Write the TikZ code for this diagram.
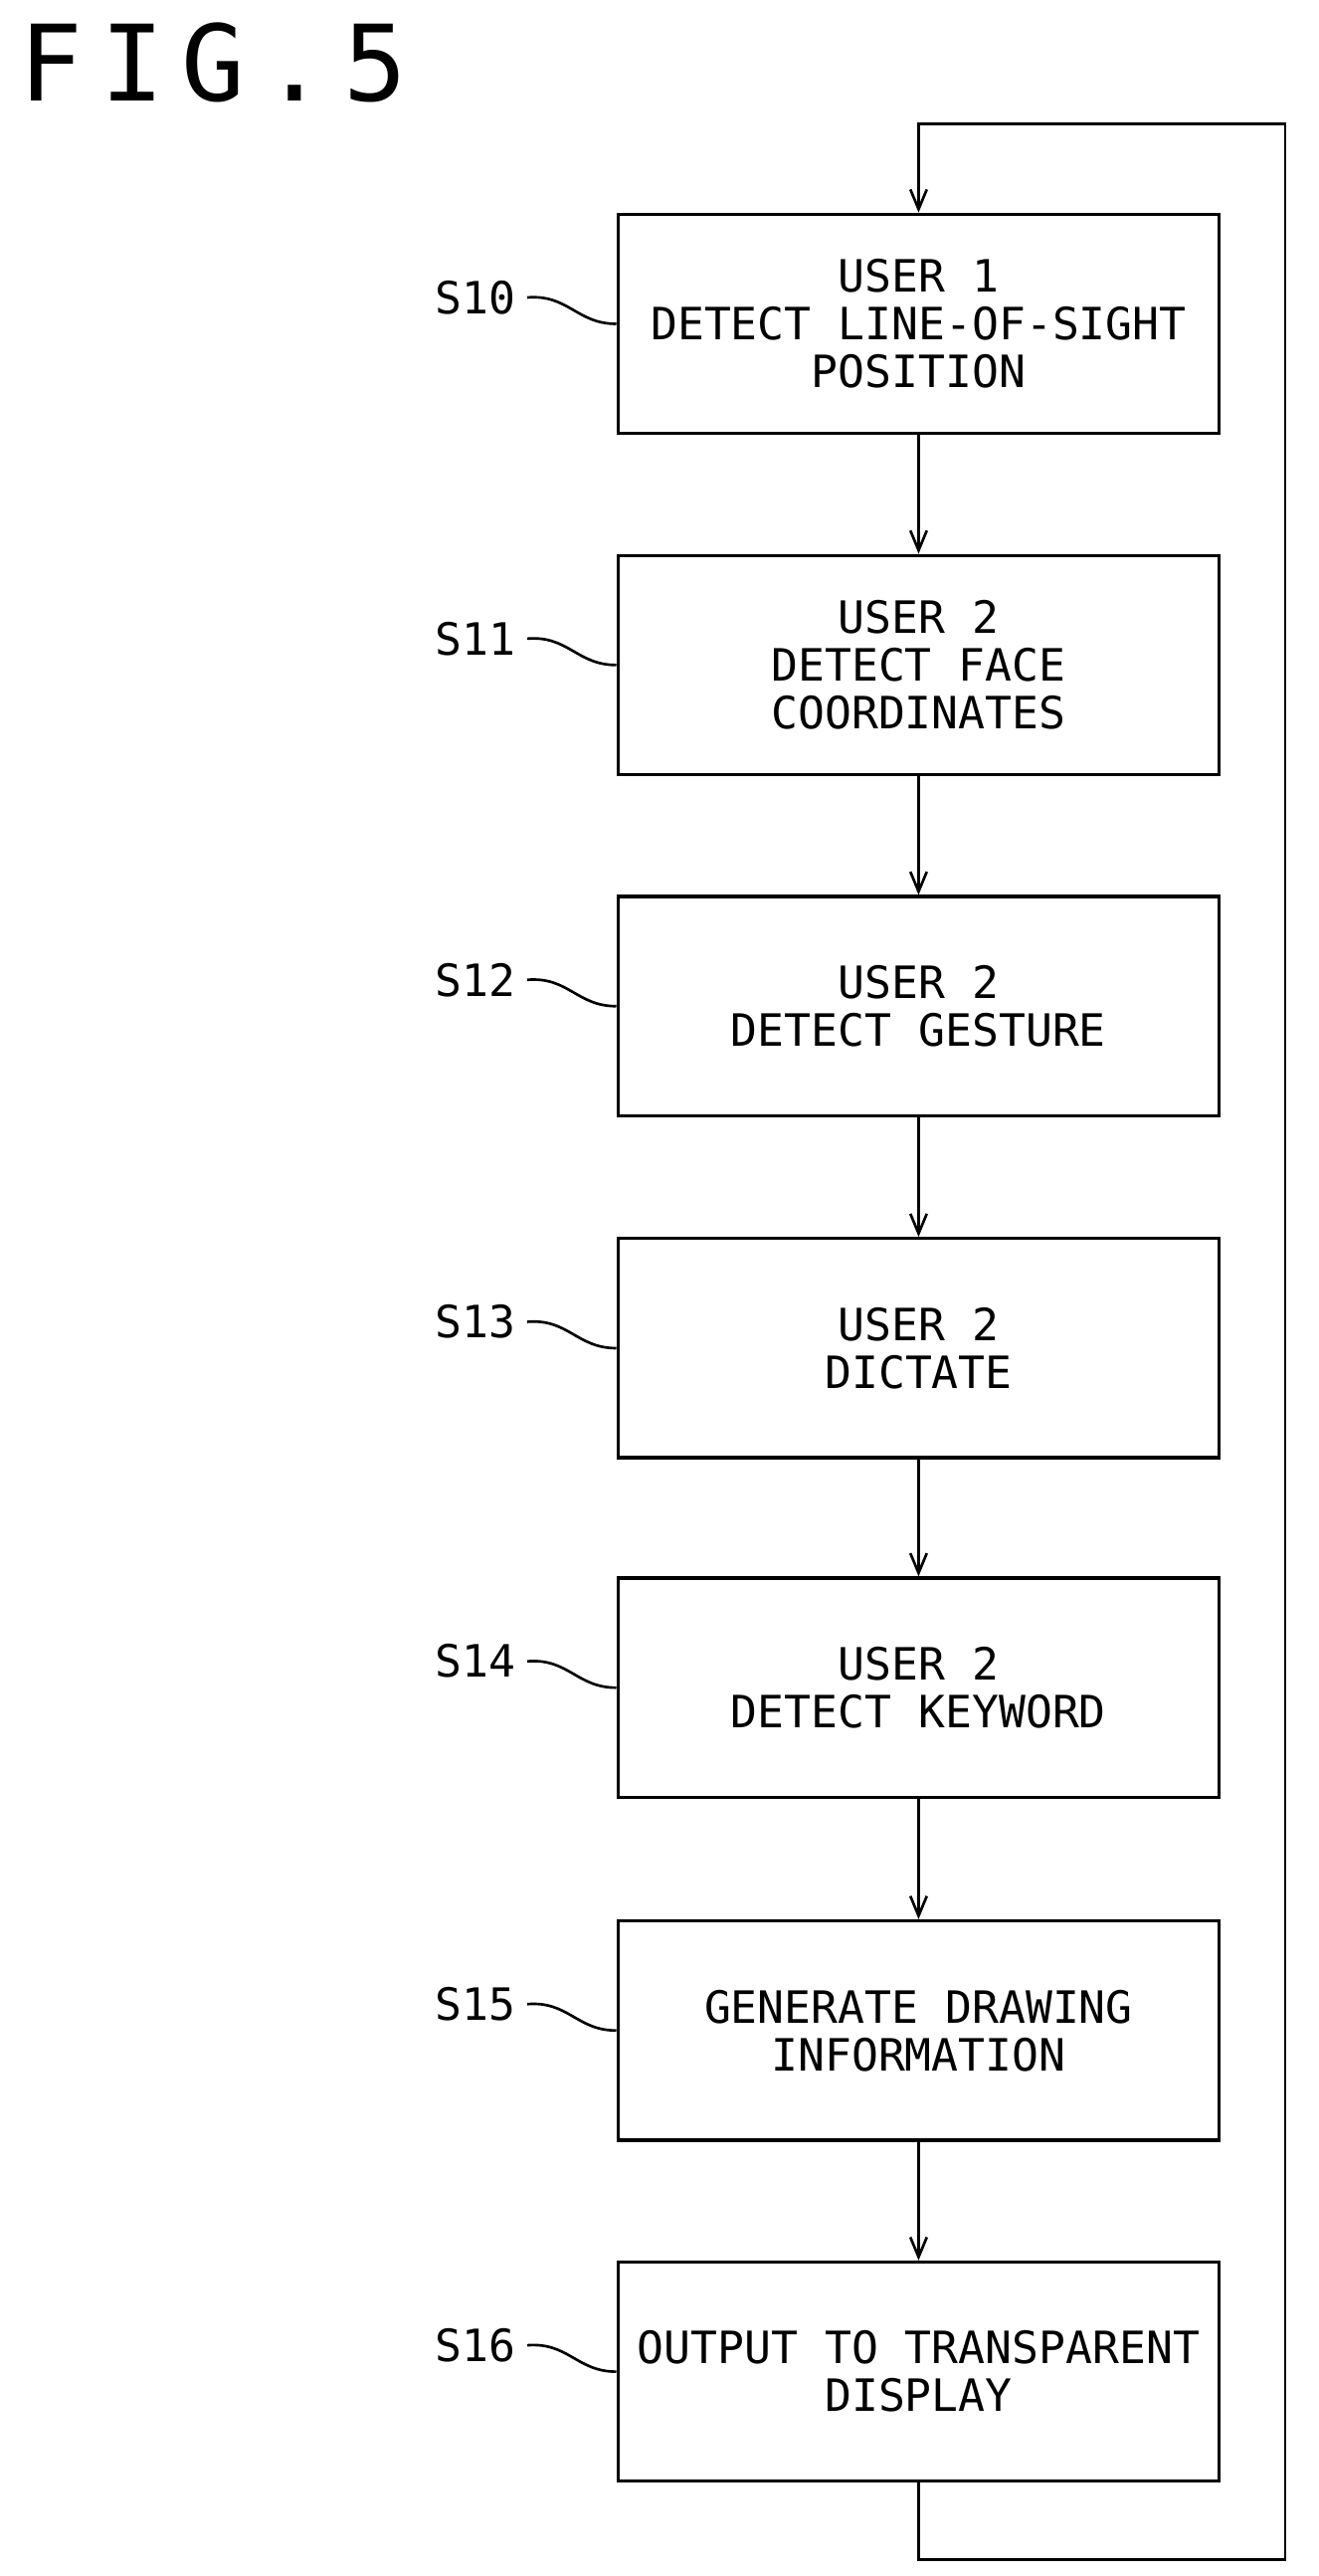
\documentclass[tikz,border=0pt]{standalone}
\usepackage{fontspec}
\setmainfont{DejaVu Sans Mono}
\usetikzlibrary{arrows.meta}
\begin{document}
\begin{tikzpicture}[x=0.5pt,y=-0.5pt,
  box/.style={draw,line width=1pt,minimum width=182.5pt,minimum height=66.5pt,align=center,inner sep=0pt,font=\fontsize{13.5}{14.5}\selectfont},
  lbl/.style={font=\fontsize{13.5}{14.5}\selectfont,anchor=east},
  arr/.style={-{Straight Barb[length=6pt,width=5pt]},line width=0.8pt},
  wig/.style={line width=0.8pt}]
\useasboundingbox (0,0) rectangle (800,1563);
\node[anchor=west,font=\fontsize{32}{34}\selectfont] (title) at (5,38) {F\,I\,G\,.\,5};
\foreach \n/\y/\t/\s in {a/196.5/{USER 1\\DETECT LINE-OF-SIGHT\\POSITION}/S10,
  b/403.5/{USER 2\\DETECT FACE\\COORDINATES}/S11,
  c/610.5/{USER 2\\DETECT GESTURE}/S12,
  d/818/{USER 2\\DICTATE}/S13,
  e/1024/{USER 2\\DETECT KEYWORD}/S14,
  f/1232/{GENERATE DRAWING\\INFORMATION}/S15,
  g/1439/{OUTPUT TO TRANSPARENT\\DISPLAY}/S16}{
  \node[box] (\n) at (557.5,\y) {\t};
  \node[lbl] (l\n) at (320,\y-16) {\s};
  \draw[wig] (l\n.east) .. controls (345,\y-18) and (350,\y) .. (\n.west);
}
\draw[arr] (a) -- (b);
\draw[arr] (b) -- (c);
\draw[arr] (c) -- (d);
\draw[arr] (d) -- (e);
\draw[arr] (e) -- (f);
\draw[arr] (f) -- (g);
\coordinate (p1) at (557.5,1553);
\coordinate (p2) at (780,1553);
\coordinate (p3) at (780,75);
\coordinate (p4) at (557.5,75);
\draw[arr] (g.south) -- (p1) -- (p2) -- (p3) -- (p4) -- (a.north);
\end{tikzpicture}
\end{document}
